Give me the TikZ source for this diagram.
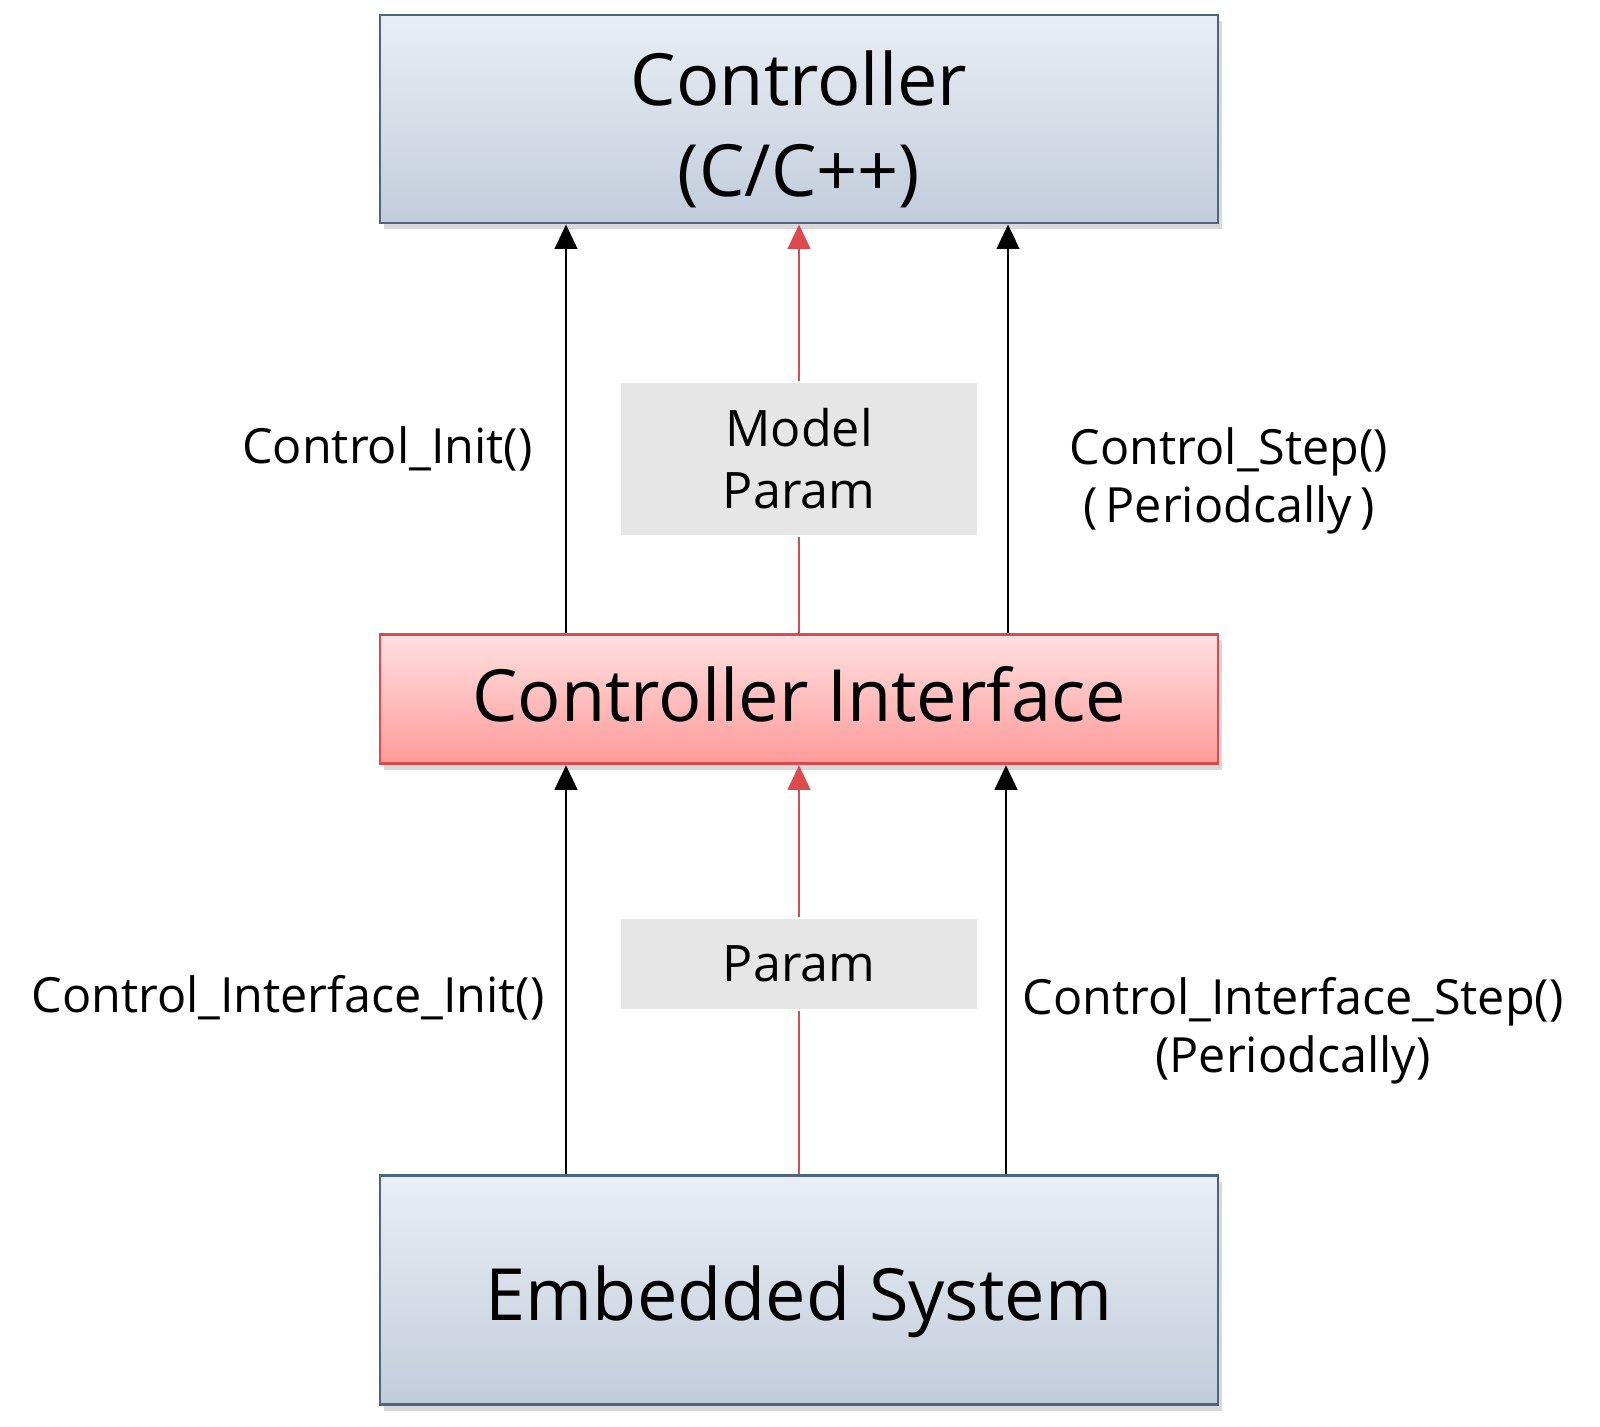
\documentclass[tikz,border=0pt]{standalone}
\usepackage{fontspec}
\setmainfont{Open Sans}
\usepackage{xcolor}
\usetikzlibrary{positioning,shadows,arrows.meta}
\definecolor{bluetop}{HTML}{EAEEF4}
\definecolor{bluebot}{HTML}{B7C4D5}
\definecolor{blueline}{HTML}{4E6580}
\definecolor{redtop}{HTML}{FFE0E0}
\definecolor{redbot}{HTML}{FF9A9A}
\definecolor{redline}{HTML}{DC4A4E}
\definecolor{paramgray}{HTML}{E6E6E6}
\tikzstyle{layer}=[rectangle, draw=blueline, line width=0.8pt, top color=bluetop, bottom color=bluetop!20!bluebot,
        drop shadow={shadow xshift=1.2pt, shadow yshift=-1.8pt, opacity=0.3}, inner ysep=0pt,
        text centered, align=center, minimum width=8.38cm, font=\fontsize{20.5}{25.8}\selectfont]
\tikzstyle{iface}=[layer, draw=redline, top color=redtop, bottom color=redbot]
\tikzstyle{param}=[rectangle, fill=paramgray, draw=white, minimum width=3.57cm, align=center,
        font=\fontsize{14.3}{17.6}\selectfont]
\tikzstyle{call}=[align=center, font=\fontsize{13.8}{16.5}\selectfont]
\tikzstyle{myarrow}=[-{Triangle[width=6.4pt, length=7pt]}, line width=0.8pt]
\tikzstyle{redarrow}=[myarrow, draw=redline, fill=redline]
\tikzstyle{redlink}=[-, line width=0.8pt, draw=redline]

\begin{document}
\begin{tikzpicture}[node distance=4.09cm]
    \useasboundingbox (0,0) rectangle (16,14.27);
    \node (Ctrl) [layer, minimum height=2.08cm] at (7.99,13.08) {\rule{0pt}{0.75cm}Controller\\(C/C++)};
    \node (Iface) [iface, minimum height=1.29cm, below=of Ctrl] {\rule[-0.1cm]{0pt}{0pt}Controller Interface};
    \node (Emb) [layer, minimum height=2.29cm, below=of Iface] {\rule{0pt}{0.79cm}Embedded System};
    \node (ModelParam) [param, minimum height=1.54cm] at (7.99,9.68) {Model\\Param};
    \node (Param) [param, minimum height=0.92cm] at (7.99,4.63) {Param};
    \node (CInit) [call, anchor=east] at (5.45,9.78) {Control\_Init()};
    \node (CStep) [call] at (12.29,9.46) {Control\_Step()\\(\,Periodcally\,)};
    \node (IInit) [call, anchor=east] at (5.57,4.29) {Control\_Interface\_Init()};
    \node (IStep) [call] at (12.93,3.965) {Control\_Interface\_Step()\\(Periodcally)};
    % interface -> controller
    \draw[myarrow] ([xshift=-2.33cm]Iface.north) -- ([xshift=-2.33cm]Ctrl.south);
    \draw[myarrow] ([xshift=2.09cm]Iface.north) -- ([xshift=2.09cm]Ctrl.south);
    \draw[redlink] (Iface.north) -- (ModelParam.south);
    \draw[redarrow] (ModelParam.north) -- (Ctrl.south);
    % embedded -> interface
    \draw[myarrow] ([xshift=-2.33cm]Emb.north) -- ([xshift=-2.33cm]Iface.south);
    \draw[myarrow] ([xshift=2.07cm]Emb.north) -- ([xshift=2.07cm]Iface.south);
    \draw[redlink] (Emb.north) -- (Param.south);
    \draw[redarrow] (Param.north) -- (Iface.south);
\end{tikzpicture}
\end{document}
